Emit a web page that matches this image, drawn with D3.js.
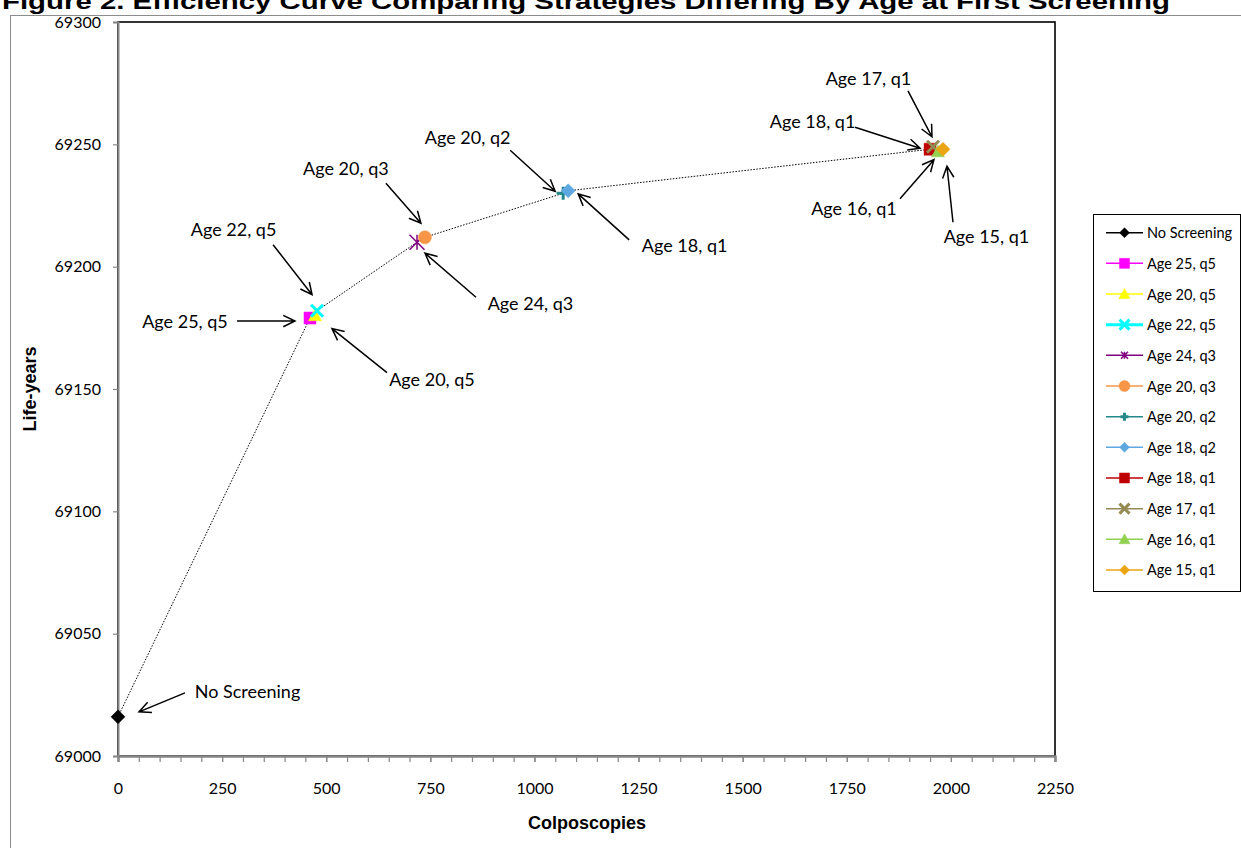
<!DOCTYPE html>
<html>
<head>
<meta charset="utf-8">
<script src="https://cdn.jsdelivr.net/npm/d3@7"></script>
<style>
  html, body { margin: 0; padding: 0; background: #fff; overflow: hidden; }
  svg { display: block; }
</style>
</head>
<body>
<svg id="chart" width="1241" height="848"></svg>
<script>
// ---------------- DATA ----------------
const seriesNames = ["No Screening", "Age 25, q5", "Age 20, q5", "Age 22, q5", "Age 24, q3", "Age 20, q3",
                     "Age 20, q2", "Age 18, q2", "Age 18, q1", "Age 17, q1", "Age 16, q1", "Age 15, q1"];
const colposcopies = [0, 461, 473, 478, 718, 737, 1069, 1081, 1950, 1957, 1969, 1981];
const lifeYears    = [69016, 69179, 69180, 69182, 69210, 69212, 69230, 69231, 69248, 69249, 69247, 69248];
const xTicks = [0, 250, 500, 750, 1000, 1250, 1500, 1750, 2000, 2250];
const yTicks = [69000, 69050, 69100, 69150, 69200, 69250, 69300];
const annotationTexts   = ["No Screening", "Age 25, q5", "Age 22, q5", "Age 20, q5", "Age 20, q3", "Age 24, q3",
                           "Age 20, q2", "Age 18, q1", "Age 17, q1", "Age 18, q1", "Age 16, q1", "Age 15, q1"];
const annotationTargets = ["No Screening", "Age 25, q5", "Age 22, q5", "Age 20, q5", "Age 20, q3", "Age 24, q3",
                           "Age 20, q2", "Age 18, q2", "Age 17, q1", "Age 18, q1", "Age 16, q1", "Age 15, q1"];
const titleText = "Figure 2. Efficiency Curve Comparing Strategies Differing By Age at First Screening";
const xTitle = "Colposcopies";
const yTitle = "Life-years";

// ---------------- STYLE / LAYOUT ----------------
const seriesStyle = {
  "No Screening": {shape: "diamond",  color: "#000000", lw: 1.5},
  "Age 25, q5":   {shape: "square",   color: "#FF00FF", lw: 1.5},
  "Age 20, q5":   {shape: "triangle", color: "#FFFF00", lw: 1.5},
  "Age 22, q5":   {shape: "x",        color: "#00FFFF", lw: 3},
  "Age 24, q3":   {shape: "star",     color: "#800080", lw: 1.5},
  "Age 20, q3":   {shape: "circle",   color: "#F79646", lw: 1.5},
  "Age 20, q2":   {shape: "plus",     color: "#23898A", lw: 1.5},
  "Age 18, q2":   {shape: "diamond",  color: "#5EA8E2", lw: 1.5},
  "Age 18, q1":   {shape: "square",   color: "#C00000", lw: 1.5},
  "Age 17, q1":   {shape: "x",        color: "#948A54", lw: 1.5},
  "Age 16, q1":   {shape: "triangle", color: "#92D050", lw: 1.5},
  "Age 15, q1":   {shape: "diamond",  color: "#EBA512", lw: 1.5}
};
// label centre, arrow start, arrow tip: pixel offsets from the target marker
const annotationLayout = [
  {lab: [129.5, -26], from: [67, -24], to: [21, -5]},
  {lab: [-125, 3],    from: [-73, 3],  to: [-15, 3]},
  {lab: [-83.5, -82], from: [-44, -66], to: [-5, -16]},
  {lab: [117, 63],    from: [72, 57],  to: [17, 13]},
  {lab: [-79, -69],   from: [-39, -54], to: [-4, -14]},
  {lab: [113.5, 61],  from: [59, 55],  to: [8, 11]},
  {lab: [-95.5, -56], from: [-53, -43], to: [-8, -2]},
  {lab: [116.5, 54],  from: [61, 49],  to: [10, 3]},
  {lab: [-64.5, -69], from: [-25, -56], to: [-1, -10]},
  {lab: [-117.5, -28], from: [-75, -22], to: [-10, -1]},
  {lab: [-84, 56],    from: [-38, 47], to: [-4, 8]},
  {lab: [43.5, 87],   from: [10, 73],  to: [4, 17]}
];

const svg = d3.select("#chart");
const plot = {left: 118, right: 1055, top: 22, bottom: 756};
const x = d3.scaleLinear().domain([0, 2250]).range([plot.left, plot.right]);
const y = d3.scaleLinear().domain([69000, 69300]).range([plot.bottom, plot.top]);

const points = seriesNames.map((n, i) => ({name: n, x: colposcopies[i], y: lifeYears[i]}));
const byName = Object.fromEntries(points.map(p => [p.name, p]));

// outer chart frame
svg.append("rect").attr("x", 10.5).attr("y", 15.5).attr("width", 1300).attr("height", 900)
  .attr("fill", "none").attr("stroke", "#8c8c8c").attr("stroke-width", 1);

// title (partially clipped at top as in reference)
svg.append("text").attr("x", 2).attr("y", 9)
  .attr("font-family", "Liberation Sans, Arial, sans-serif").attr("font-weight", "bold")
  .attr("font-size", 22).attr("textLength", 1168).attr("lengthAdjust", "spacingAndGlyphs")
  .attr("fill", "#000").text(titleText);

// plot area border
svg.append("rect").attr("x", plot.left).attr("y", plot.top)
  .attr("width", plot.right - plot.left).attr("height", plot.bottom - plot.top)
  .attr("fill", "#fff").attr("stroke", "#000").attr("stroke-width", 1.6);

// axes
const axisColor = "#868686";
const tickFont = "Lato, 'Open Sans', sans-serif";
const yAxis = svg.append("g").attr("transform", `translate(${plot.left},0)`)
  .call(d3.axisLeft(y).tickValues(yTicks).tickSize(5).tickPadding(12).tickFormat(d3.format("d")));
const xMinor = svg.append("g").attr("transform", `translate(0,${plot.bottom})`)
  .call(d3.axisBottom(x).tickValues(d3.range(0, 2251, 50)).tickSize(6).tickFormat(""));
const xAxis = svg.append("g").attr("transform", `translate(0,${plot.bottom})`)
  .call(d3.axisBottom(x).tickValues(xTicks).tickSize(6).tickPadding(21).tickFormat(d3.format("d")));
[yAxis, xAxis, xMinor].forEach(g => {
  g.select(".domain").attr("stroke", axisColor).attr("stroke-width", 2);
  g.selectAll(".tick line").attr("stroke", axisColor).attr("stroke-width", 1.2);
  g.selectAll("text").attr("font-family", tickFont).attr("font-size", 16).attr("fill", "#000");
});

// axis titles
svg.append("text").attr("x", 587).attr("y", 829).attr("text-anchor", "middle")
  .attr("font-family", "Liberation Sans, Arial, sans-serif").attr("font-weight", "bold")
  .attr("font-size", 18).text(xTitle);
svg.append("text").attr("transform", "translate(36,389) rotate(-90)").attr("text-anchor", "middle")
  .attr("font-family", "Liberation Sans, Arial, sans-serif").attr("font-weight", "bold")
  .attr("font-size", 18).text(yTitle);

// dotted efficiency curve
const sorted = points.slice().sort((a, b) => a.x - b.x);
svg.append("path").datum(sorted)
  .attr("d", d3.line().x(d => x(d.x)).y(d => y(d.y)))
  .attr("fill", "none").attr("stroke", "#000").attr("stroke-width", 1)
  .attr("stroke-dasharray", "1.5,1.5");

// marker drawing
function markerPath(shape, s) {
  const h = s / 2, p = d3.path();
  switch (shape) {
    case "diamond": p.moveTo(0, -h); p.lineTo(h, 0); p.lineTo(0, h); p.lineTo(-h, 0); p.closePath(); break;
    case "square": p.rect(-h, -h, s, s); break;
    case "triangle": p.moveTo(0, -h); p.lineTo(h, h * 0.8); p.lineTo(-h, h * 0.8); p.closePath(); break;
    case "circle": p.arc(0, 0, h, 0, 2 * Math.PI); break;
    case "x": p.moveTo(-h, -h); p.lineTo(h, h); p.moveTo(h, -h); p.lineTo(-h, h); break;
    case "star": p.moveTo(-h, -h); p.lineTo(h, h); p.moveTo(h, -h); p.lineTo(-h, h); p.moveTo(0, -h); p.lineTo(0, h); break;
    case "plus": p.moveTo(-h, 0); p.lineTo(h, 0); p.moveTo(0, -h); p.lineTo(0, h); break;
  }
  return p.toString();
}
function drawMarker(g, st, size) {
  const stroked = ["x", "star", "plus"].includes(st.shape);
  g.append("path").attr("d", markerPath(st.shape, size))
    .attr("fill", stroked ? "none" : st.color)
    .attr("stroke", st.color)
    .attr("stroke-width", stroked ? (st.shape === "star" ? 1.5 : 3) : 0.5);
}
const plotSizes = {diamond: 14, square: 12, triangle: 13, circle: 13, x: 12, star: 15, plus: 13};
points.forEach(p => {
  const g = svg.append("g").attr("transform", `translate(${x(p.x)},${y(p.y)})`);
  drawMarker(g, seriesStyle[p.name], plotSizes[seriesStyle[p.name].shape]);
});

// annotations with arrows
const annFont = "Lato, 'Open Sans', sans-serif";
function arrow(x1, y1, x2, y2) {
  const ang = Math.atan2(y2 - y1, x2 - x1), L = 13, a = 0.45;
  const p = d3.path();
  p.moveTo(x1, y1); p.lineTo(x2, y2);
  p.moveTo(x2 - L * Math.cos(ang - a), y2 - L * Math.sin(ang - a));
  p.lineTo(x2, y2);
  p.lineTo(x2 - L * Math.cos(ang + a), y2 - L * Math.sin(ang + a));
  svg.append("path").attr("d", p.toString()).attr("fill", "none")
    .attr("stroke", "#000").attr("stroke-width", 1.5);
}
annotationTexts.forEach((t, i) => {
  const tp = byName[annotationTargets[i]];
  const px = x(tp.x), py = y(tp.y), L = annotationLayout[i];
  svg.append("text").attr("x", px + L.lab[0]).attr("y", py + L.lab[1])
    .attr("text-anchor", "middle").attr("dominant-baseline", "central")
    .attr("font-family", annFont).attr("font-size", 18).attr("fill", "#000").text(t);
  arrow(px + L.from[0], py + L.from[1], px + L.to[0], py + L.to[1]);
});

// legend
const leg = {x: 1093, y: 214, w: 147, h: 377, first: 232.7, step: 30.66};
svg.append("rect").attr("x", leg.x + 0.5).attr("y", leg.y + 0.5).attr("width", leg.w).attr("height", leg.h)
  .attr("fill", "#fff").attr("stroke", "#000").attr("stroke-width", 1);
const legendSizes = {diamond: 10, square: 10, triangle: 11, circle: 11, x: 10, star: 7, plus: 8};
seriesNames.forEach((n, i) => {
  const st = seriesStyle[n];
  const yy = leg.first + i * leg.step;
  svg.append("line").attr("x1", 1106).attr("x2", 1143).attr("y1", yy).attr("y2", yy)
    .attr("stroke", st.color).attr("stroke-width", st.lw);
  const g = svg.append("g").attr("transform", `translate(1124.5,${yy})`);
  drawMarker(g, st, legendSizes[st.shape]);
  svg.append("text").attr("x", 1147).attr("y", yy).attr("dominant-baseline", "central")
    .attr("font-family", annFont).attr("font-size", 14.5).attr("fill", "#000").text(n);
});
</script>
</body>
</html>
